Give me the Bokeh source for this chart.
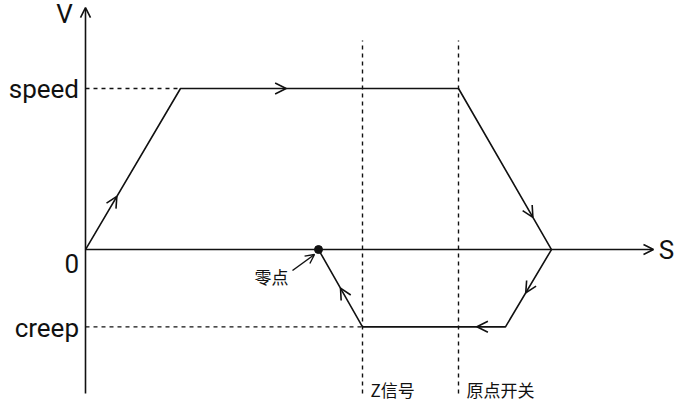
from bokeh.plotting import figure
from bokeh.models import Arrow, OpenHead, Range1d
from bokeh.core.properties import value
from bokeh.embed import file_html
from bokeh.resources import INLINE

# ---- data (S in arbitrary distance units, V in % of speed) ----
path_s = [0, 9.5, 37.3, 46.6, 42.0, 27.7, 23.3]
path_v = [0, 100, 100, 0, -48, -48, 0]
speed_v = 100
creep_v = -48
zero_v = 0
z_signal_s = 27.7
home_switch_s = 37.3
zero_point_s = 23.3
arrow_frac = [0.33, 0.38, 0.80, 0.56, 0.20, 0.50]
tick_labels = ["speed", "0", "creep"]
tick_values = [speed_v, zero_v, creep_v]
axis_x_label = "S"
axis_y_label = "V"
zero_label = "零点"
z_label = "Z信号"
home_label = "原点开关"

W, H = 680, 407
p = figure(width=W, height=H, output_backend="svg", toolbar_location=None,
           x_range=Range1d(-8.5, 59.5), y_range=Range1d(-98.1, 154.66),
           min_border=0, min_border_left=0, min_border_right=0,
           min_border_top=0, min_border_bottom=0)
p.axis.visible = False
p.grid.visible = False
p.outline_line_color = None
p.background_fill_color = "white"
p.border_fill_color = "white"

INK = "#111111"
LW = 1.6
ymin_line = -89.4
ymax_dash = 129.8

# axes drawn as arrows
p.add_layout(Arrow(x_start=0, y_start=ymin_line, x_end=0, y_end=150.3,
                   line_color=INK, line_width=LW,
                   end=OpenHead(size=10, line_color=INK, line_width=LW)))
p.add_layout(Arrow(x_start=0, y_start=0, x_end=56.8, y_end=0,
                   line_color=INK, line_width=LW,
                   end=OpenHead(size=10, line_color=INK, line_width=LW)))

# dashed guides
p.line([0, path_s[1]], [speed_v, speed_v], line_color=INK, line_width=1.4, line_dash="4 4")
p.line([0, z_signal_s], [creep_v, creep_v], line_color=INK, line_width=1.4, line_dash="4 4")
for xs in (z_signal_s, home_switch_s):
    p.line([xs, xs], [ymin_line, ymax_dash], line_color=INK, line_width=1.4, line_dash="4 4")

# motion path
p.line(path_s, path_v, line_color=INK, line_width=LW)

# direction chevrons
for i, f in enumerate(arrow_frac):
    x0, y0 = path_s[i], path_v[i]
    x1, y1 = path_s[i + 1], path_v[i + 1]
    tx, ty = x0 + (x1 - x0) * f, y0 + (y1 - y0) * f
    sx, sy = x0 + (x1 - x0) * (f - 0.05), y0 + (y1 - y0) * (f - 0.05)
    p.add_layout(Arrow(x_start=sx, y_start=sy, x_end=tx, y_end=ty,
                       line_color=INK, line_width=LW, line_alpha=0,
                       end=OpenHead(size=11, line_color=INK, line_width=LW)))

# zero point
p.scatter([zero_point_s], [0], size=8, color=INK)
p.add_layout(Arrow(x_start=zero_point_s - 2.6, y_start=-13, x_end=zero_point_s - 0.4, y_end=-3.1,
                   line_color=INK, line_width=1.4,
                   end=OpenHead(size=9, line_color=INK, line_width=1.4)))

# texts
font = value("Roboto")
cjk = value("Noto Sans CJK SC")
p.text(x=[-0.65] * 3, y=[tick_values[0], tick_values[1] - 8.7, tick_values[2] - 1],
       text=tick_labels, text_font=font, text_font_size="26px", text_color=INK,
       text_align="right", text_baseline="middle")
p.text(x=[-2.1], y=[146.0], text=[axis_y_label], text_font=font, text_font_size="26px",
       text_color=INK, text_align="center", text_baseline="middle")
p.text(x=[58.1], y=[0], text=[axis_x_label], text_font=font, text_font_size="26px",
       text_color=INK, text_align="center", text_baseline="middle")
p.text(x=[zero_point_s - 4.7], y=[-16.8], text=[zero_label], text_font=cjk,
       text_font_size="17px", text_color=INK, text_align="center", text_baseline="middle")
p.text(x=[z_signal_s + 0.8, home_switch_s + 0.8], y=[-87, -87], text=[z_label, home_label],
       text_font=cjk, text_font_size="17px", text_color=INK, text_align="left",
       text_baseline="middle")

open("out.html", "w").write(file_html(p, INLINE))
